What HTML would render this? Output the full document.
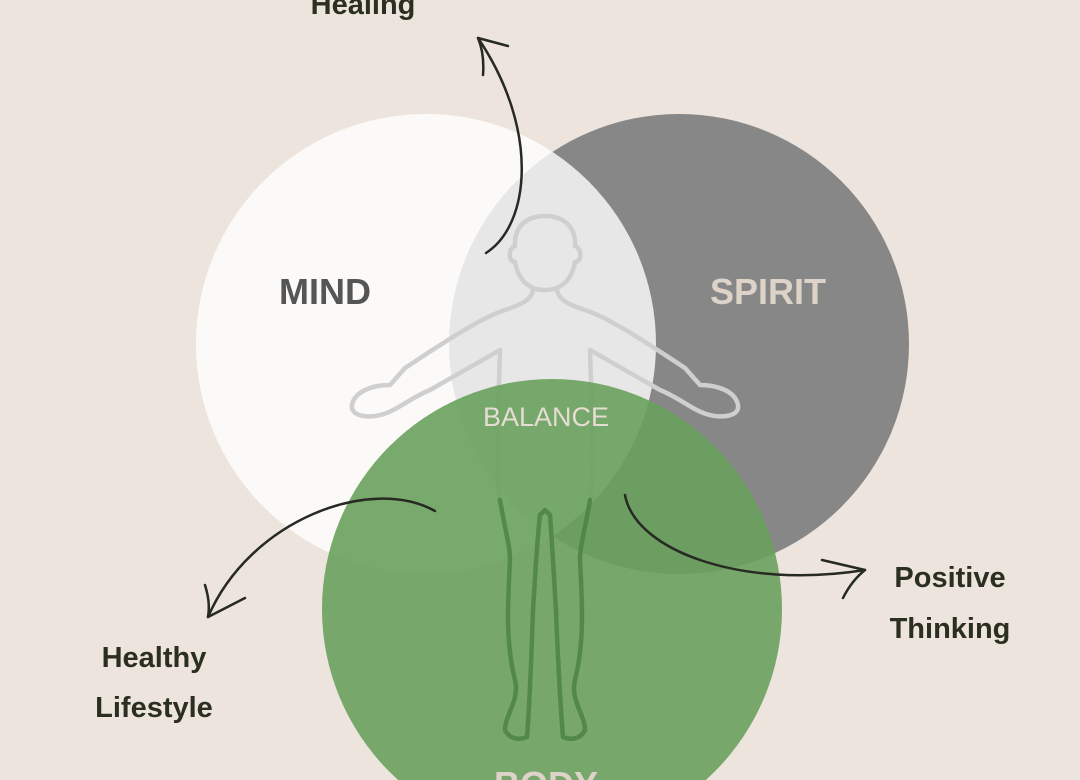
<!DOCTYPE html>
<html><head><meta charset="utf-8"><style>
html,body{margin:0;padding:0;background:#ede5dd;width:1080px;height:780px;overflow:hidden;}
svg{display:block}
text{font-family:"Liberation Sans",sans-serif}
</style></head><body>
<svg width="1080" height="780" viewBox="0 0 1080 780">
<rect width="1080" height="780" fill="#ede5dd"/>
<circle cx="679" cy="344" r="230" fill="#878787"/>
<circle cx="426" cy="344" r="230" fill="#ffffff" fill-opacity="0.8"/>
<!-- figure upper -->
<g fill="none" stroke="#cfcfcf" stroke-width="4.5" stroke-linejoin="round" stroke-linecap="round">
<path d="M545 290 C525 290 517 275 515 262 C508 262 508 248 515 246 C514 228 525 216 545 216 C565 216 576 228 575 246 C582 248 582 262 575 262 C573 275 565 290 545 290 Z"/>
<path d="M533 288 C533 300 520 305 505 310 C480 318 440 345 405 368 L390 385 C375 385 355 390 352 405 C350 417 370 418 380 415 C395 412 410 398 430 390 L500 350"/>
<path d="M557 288 C557 300 570 305 585 310 C610 318 650 345 685 368 L700 385 C715 385 735 390 738 405 C740 417 720 418 710 415 C695 412 680 398 660 390 L590 350"/>
<path d="M500 350 C498 420 495 470 500 500 M590 350 C592 420 595 470 590 500"/>
</g>
<circle cx="552" cy="609" r="230" fill="#69a05d" fill-opacity="0.9"/>
<g fill="none" stroke="#4c8443" stroke-width="4.5" stroke-linejoin="round" stroke-linecap="round" opacity="0.85">
<path d="M500 500 C505 530 510 545 510 560 C508 600 505 640 515 680 C520 700 505 715 505 730 C510 740 520 740 527 737 C530 700 532 640 533 610 C535 580 537 540 540 515"/>
<path d="M590 500 C585 530 580 545 580 560 C582 600 585 640 575 680 C570 700 585 715 585 730 C580 740 570 740 563 737 C560 700 557 640 556 610 C554 580 552 540 550 515"/>
<path d="M540 515 L545 510 L550 515"/>
</g>
<text x="325" y="304" text-anchor="middle" font-size="36" font-weight="bold" fill="#555555">MIND</text>
<text x="768" y="304" text-anchor="middle" font-size="36" font-weight="bold" fill="#ddd3c8">SPIRIT</text>
<text x="546" y="426" text-anchor="middle" font-size="27" fill="#e6ddd2">BALANCE</text>
<text x="546" y="797" text-anchor="middle" font-size="36" font-weight="bold" fill="#ddd3c8">BODY</text>
<g fill="#2a2f22" font-weight="bold" font-size="29" text-anchor="middle">
<text x="363" y="14">Healing</text>
<text x="950" y="587">Positive</text>
<text x="950" y="638">Thinking</text>
<text x="154" y="667">Healthy</text>
<text x="154" y="717">Lifestyle</text>
</g>
<g fill="none" stroke="#262a22" stroke-width="2.5" stroke-linecap="round">
<path d="M486 253 C530 225 540 130 478 38"/>
<path d="M478 38 L508 46 M478 38 C483 50 484 62 483 75"/>
<path d="M435 511 C370 475 250 520 208 617"/>
<path d="M208 617 L245 598 M208 617 C210 605 208 595 205 585"/>
<path d="M625 495 C635 550 740 590 865 570"/>
<path d="M865 570 L822 560 M865 570 C855 578 848 588 843 598"/>
</g>
</svg>
</body></html>
